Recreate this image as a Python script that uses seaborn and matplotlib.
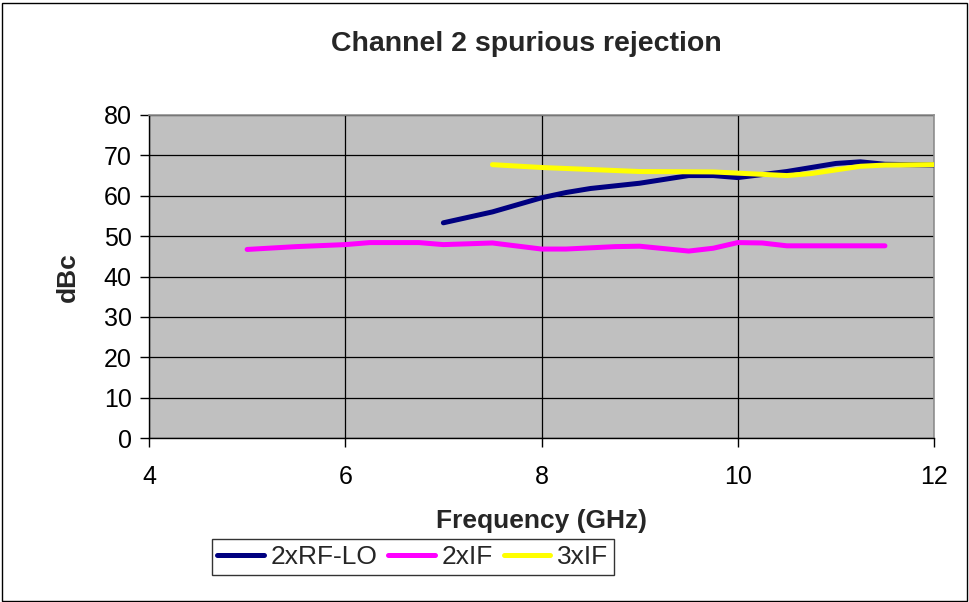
import matplotlib
matplotlib.use("Agg")
import matplotlib.pyplot as plt
import seaborn as sns
import pandas as pd
from matplotlib.patches import Rectangle

# ---- data ----
rf_lo_x = [7.0, 7.5, 8.0, 8.25, 8.5, 9.0, 9.5, 9.75, 10.0, 10.5, 11.0, 11.25, 11.5, 12.0]
rf_lo_y = [53.3, 56.0, 59.5, 60.8, 61.8, 63.1, 65.0, 65.0, 64.5, 66.0, 68.0, 68.4, 67.8, 67.6]

if2_x = [5.0, 5.5, 6.0, 6.25, 6.75, 7.0, 7.5, 8.0, 8.25, 8.75, 9.0, 9.5, 9.75, 10.0, 10.25, 10.5, 11.0, 11.5]
if2_y = [46.7, 47.4, 47.9, 48.4, 48.4, 47.9, 48.3, 46.8, 46.8, 47.4, 47.5, 46.3, 47.0, 48.4, 48.3, 47.6, 47.6, 47.6]

if3_x = [7.5, 8.0, 9.0, 9.75, 10.0, 10.5, 10.75, 11.25, 11.5, 12.0]
if3_y = [67.7, 67.0, 66.0, 65.9, 65.6, 65.0, 65.5, 67.3, 67.6, 67.7]

series_names = ["2xRF-LO", "2xIF", "3xIF"]
series_colors = ["#000080", "#FF00FF", "#FFFF00"]
x_ticks = [4, 6, 8, 10, 12]
y_ticks = [0, 10, 20, 30, 40, 50, 60, 70, 80]

title = "Channel 2 spurious rejection"
x_label = "Frequency (GHz)"
y_label = "dBc"

df = pd.concat([
    pd.DataFrame({"freq": rf_lo_x, "val": rf_lo_y, "series": series_names[0]}),
    pd.DataFrame({"freq": if2_x, "val": if2_y, "series": series_names[1]}),
    pd.DataFrame({"freq": if3_x, "val": if3_y, "series": series_names[2]}),
], ignore_index=True)

sns.set_style("white")
plt.rcParams["font.family"] = ["Liberation Sans", "DejaVu Sans"]

W, H = 969, 602
fig = plt.figure(figsize=(W / 100, H / 100), dpi=100)
L, R, T, B = 149, 934, 115, 438
ax = fig.add_axes([L / W, 1 - B / H, (R - L) / W, (B - T) / H])
ax.set_facecolor("#C0C0C0")

sns.lineplot(data=df, x="freq", y="val", hue="series", hue_order=series_names,
             palette=dict(zip(series_names, series_colors)), linewidth=3.6,
             sort=True, estimator=None, ax=ax, legend=False, zorder=3)
for ln in ax.get_lines():
    ln.set_solid_capstyle("round")
    ln.set_solid_joinstyle("round")

ax.set_xlim(4, 12)
ax.set_ylim(0, 80)
ax.set_xticks(x_ticks)
ax.set_yticks(y_ticks)
ax.grid(True, color="black", linewidth=0.9)
ax.set_axisbelow(True)

for s in ["left", "bottom"]:
    ax.spines[s].set_color("black")
    ax.spines[s].set_linewidth(1.0)
for s in ["top", "right"]:
    ax.spines[s].set_color("#909090")
    ax.spines[s].set_linewidth(1.2)

ax.tick_params(axis="both", direction="out", length=6.5, width=1, color="black",
               labelsize=18, labelcolor="black")
ax.tick_params(axis="y", pad=6)
ax.tick_params(axis="x", pad=13)
ax.tick_params(left=True, bottom=True)

ax.set_xlabel("")
ax.set_ylabel("")
fig.text(541 / W, 1 - 521 / H, x_label, ha="center", va="center",
         fontsize=19, fontweight="bold")
fig.text(68 / W, 1 - 277 / H, y_label, ha="center", va="center",
         fontsize=19, fontweight="bold", rotation=90)
fig.text(526 / W, 1 - 44 / H, title, ha="center", va="center",
         fontsize=20.5, fontweight="bold")

handles = [plt.Line2D([0], [0], color=c, linewidth=3.6, solid_capstyle="round")
           for c in series_colors]
leg = fig.legend(handles, series_names, loc="center", bbox_to_anchor=(413 / W, 1 - 557 / H),
                 ncol=3, fontsize=19, frameon=True, fancybox=False, edgecolor="black",
                 handlelength=1.75, handletextpad=0.28, columnspacing=0.4,
                 borderpad=0.22, borderaxespad=0)
leg.get_frame().set_linewidth(1.0)

fig.patches.append(Rectangle((1.5 / W, 1.5 / H), (W - 4) / W, (H - 4) / H,
                             transform=fig.transFigure, fill=False,
                             edgecolor="black", linewidth=1.0))

fig.savefig("out.png", dpi=100)
